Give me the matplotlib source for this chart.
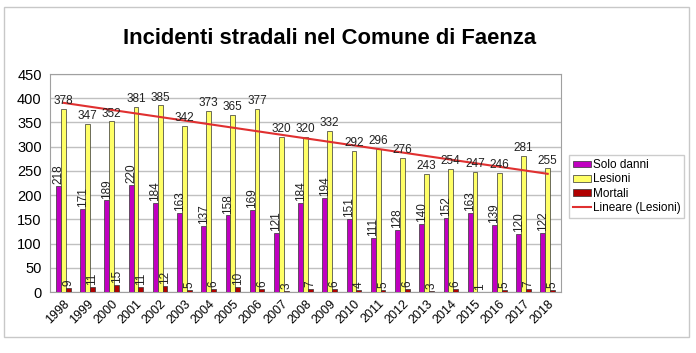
import numpy as np
import matplotlib.pyplot as plt
from matplotlib.patches import Rectangle

plt.rcParams['font.family'] = ['Liberation Sans', 'DejaVu Sans']

years = [str(y) for y in range(1998, 2019)]
solo_danni = [218, 171, 189, 220, 184, 163, 137, 158, 169, 121, 184, 194, 151, 111, 128, 140, 152, 163, 139, 120, 122]
lesioni = [378, 347, 352, 381, 385, 342, 373, 365, 377, 320, 320, 332, 292, 296, 276, 243, 254, 247, 246, 281, 255]
mortali = [9, 11, 15, 11, 12, 5, 6, 10, 6, 3, 7, 6, 4, 5, 6, 3, 6, 1, 5, 7, 5]

fig = plt.figure(figsize=(6.96, 3.53), dpi=100)
fig.patches.append(Rectangle((4/696, 1-337/353), 685/696, 330/353, transform=fig.transFigure,
                             fill=False, edgecolor='#c8c8c8', linewidth=1))
ax = fig.add_axes([50/696, 1-292/353, (561-50)/696, (292-74)/353])

x = np.arange(len(years))
w = 0.2
b1 = ax.bar(x - w, solo_danni, w, color='#c000c0', edgecolor='#333333', linewidth=0.5, label='Solo danni', zorder=3)
b2 = ax.bar(x, lesioni, w, color='#ffff66', edgecolor='#333333', linewidth=0.5, label='Lesioni', zorder=3)
b3 = ax.bar(x + w, mortali, w, color='#b00000', edgecolor='#333333', linewidth=0.5, label='Mortali', zorder=3)

coef = np.polyfit(x, lesioni, 1)
ln, = ax.plot(x, np.polyval(coef, x), color='#e03030', linewidth=1.5, label='Lineare (Lesioni)', zorder=4)

for i in range(len(years)):
    ax.text(x[i] - w, solo_danni[i] + 4, str(solo_danni[i]), rotation=90, ha='center', va='bottom', fontsize=8.5, color='#222222', zorder=5)
    ax.text(x[i], lesioni[i] + 4, str(lesioni[i]), ha='center', va='bottom', fontsize=8.5, color='#222222', zorder=5)
    ax.text(x[i] + w, mortali[i] + 4, str(mortali[i]), rotation=90, ha='center', va='bottom', fontsize=8.5, color='#222222', zorder=5)

ax.set_xlim(-0.55, len(years) - 0.45)
ax.set_ylim(0, 450)
ax.set_yticks(range(0, 451, 50))
ax.set_xticks(x)
ax.set_xticklabels(years, rotation=45, ha='right', rotation_mode='anchor', fontsize=9)
ax.tick_params(axis='y', labelsize=10.5, length=0, pad=6)
ax.tick_params(axis='x', length=0, pad=4)
ax.grid(axis='y', color='#c0c0c0', linewidth=1, zorder=0)
for s in ax.spines.values():
    s.set_color('#a0a0a0')

fig.text(330/696, 1-38/353, 'Incidenti stradali nel Comune di Faenza', ha='center', va='center',
         fontsize=15.8, fontweight='bold')

ax.legend(handles=[b1, b2, b3, ln], loc='upper left', bbox_to_anchor=(569/696, 1-155/353),
          bbox_transform=fig.transFigure,
          fontsize=8.5, frameon=True, fancybox=False, edgecolor='#c0c0c0',
          handlelength=1.5, handleheight=0.5, handletextpad=0.15, borderpad=0.35,
          labelspacing=0.2, borderaxespad=0)

fig.savefig('out.png', dpi=100, facecolor='white')
